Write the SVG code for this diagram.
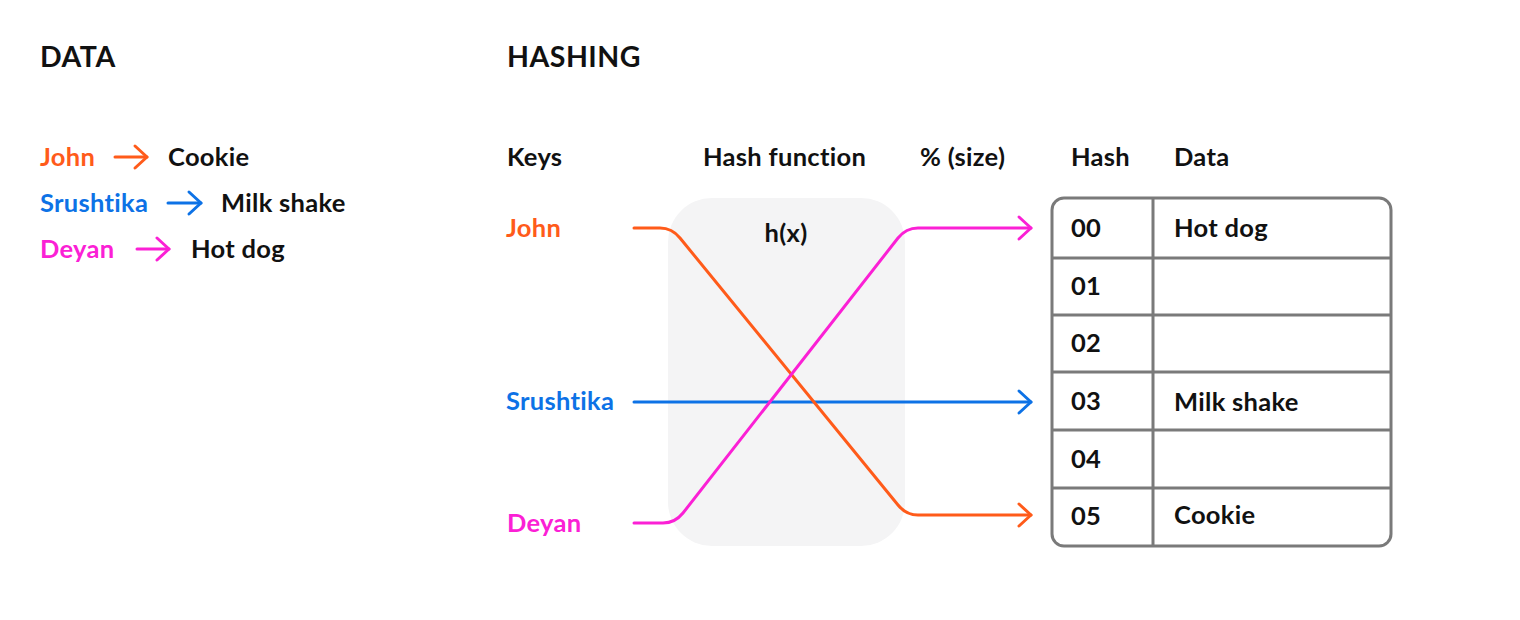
<svg xmlns="http://www.w3.org/2000/svg" width="1520" height="620" viewBox="0 0 1520 620">
<style>
text{font-family:Lato,"Noto Sans","Liberation Sans",sans-serif;font-weight:700;font-size:25.5px;letter-spacing:0.3px;fill:#111}
.h{font-size:28.5px;letter-spacing:0.5px}
.o{fill:#ff5b1a}.b{fill:#0d72e6}.m{fill:#fb20d5}
.ln{fill:none;stroke-width:3;stroke-linecap:round;stroke-linejoin:round}
.grid{fill:none;stroke:#7a7a7a;stroke-width:3}
</style>
<defs>
<marker id="ao" markerUnits="userSpaceOnUse" markerWidth="30" markerHeight="30" refX="0" refY="0" viewBox="-15 -15 30 30" orient="auto"><path d="M-12,-11 L0,0 L-12,11" fill="none" stroke="#ff5b1a" stroke-width="3" stroke-linecap="round" stroke-linejoin="round"/></marker>
<marker id="ab" markerUnits="userSpaceOnUse" markerWidth="30" markerHeight="30" refX="0" refY="0" viewBox="-15 -15 30 30" orient="auto"><path d="M-12,-11 L0,0 L-12,11" fill="none" stroke="#0d72e6" stroke-width="3" stroke-linecap="round" stroke-linejoin="round"/></marker>
<marker id="am" markerUnits="userSpaceOnUse" markerWidth="30" markerHeight="30" refX="0" refY="0" viewBox="-15 -15 30 30" orient="auto"><path d="M-12,-11 L0,0 L-12,11" fill="none" stroke="#fb20d5" stroke-width="3" stroke-linecap="round" stroke-linejoin="round"/></marker>
</defs>
<rect width="1520" height="620" fill="#fff"/>

<g id="data-section">
<text class="h" x="40" y="67">DATA</text>
<text class="o" x="40" y="166">John</text>
<text x="168" y="166">Cookie</text>
<text class="b" x="40" y="212">Srushtika</text>
<text x="221" y="212">Milk shake</text>
<text class="m" x="40" y="258">Deyan</text>
<text x="191" y="258">Hot dog</text>
<path class="ln" d="M115,157 H147" stroke="#ff5b1a" marker-end="url(#ao)"/>
<path class="ln" d="M168,203 H201" stroke="#0d72e6" marker-end="url(#ab)"/>
<path class="ln" d="M137,249 H169" stroke="#fb20d5" marker-end="url(#am)"/>
</g>

<g id="headers">
<text class="h" x="507" y="67">HASHING</text>
<text x="507" y="166">Keys</text>
<text x="703" y="166">Hash function</text>
<text x="920" y="166">% (size)</text>
<text x="1071" y="166">Hash</text>
<text x="1174" y="166">Data</text>
</g>

<g id="hash-function">
<rect x="668" y="198" width="237" height="348" rx="44" fill="#f4f4f5"/>
<text x="786" y="242" text-anchor="middle">h(x)</text>
</g>

<g id="keys">
<text class="o" x="506" y="237">John</text>
<text class="b" x="506" y="410">Srushtika</text>
<text class="m" x="507" y="532">Deyan</text>
</g>

<g id="connectors">
<path class="ln" stroke="#0d72e6" d="M634,402 H1031" marker-end="url(#ab)"/>
<path class="ln" stroke="#ff5b1a" d="M634,228 H660 Q672,228 680,238 L898,505 Q906,515 918,515 H1031" marker-end="url(#ao)"/>
<path class="ln" stroke="#fb20d5" d="M634,523 H663 Q675,523 683,513 L898,238 Q906,228 918,228 H1031" marker-end="url(#am)"/>
</g>

<g id="hash-table">
<rect class="grid" x="1052" y="198" width="339" height="348" rx="12"/>
<path class="grid" d="M1153,198 V546 M1052,258 H1391 M1052,315 H1391 M1052,372 H1391 M1052,430 H1391 M1052,488 H1391"/>
<text x="1071" y="237">00</text>
<text x="1071" y="295">01</text>
<text x="1071" y="352">02</text>
<text x="1071" y="410">03</text>
<text x="1071" y="468">04</text>
<text x="1071" y="525">05</text>
<text x="1174" y="237">Hot dog</text>
<text x="1174" y="411">Milk shake</text>
<text x="1174" y="524">Cookie</text>
</g>
</svg>
